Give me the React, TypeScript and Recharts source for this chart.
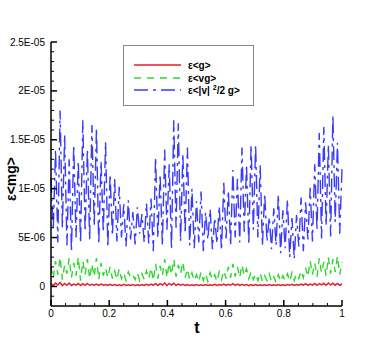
import React from "react";
import { Line, LineChart, XAxis, YAxis } from "recharts";

// values are in units of 1E-06; each series alternates crest / trough along t
const blueHigh = [
    11.0, 14.0, 18.0, 15.5, 13.0, 14.5, 12.8, 17.0, 14.0, 16.5, 16.2, 12.8, 14.8,
    11.5, 11.0, 10.2, 8.4, 8.8, 7.6, 8.1, 7.4, 8.5, 9.0,
    13.2, 11.5, 14.0, 12.5, 17.0, 16.7, 13.6, 14.2, 10.0,
    8.7, 9.7, 7.6, 7.9, 7.0, 8.2, 10.6, 9.8, 11.9, 11.0,
    14.2, 12.5, 14.5, 14.5, 12.4, 9.5, 7.1, 8.0, 9.4,
    7.8, 8.9, 7.0, 7.3, 9.1, 8.6, 10.1, 12.5, 15.7, 16.3, 14.5, 17.5, 14.7, 12.0,
];
const blueLow = [
    5.8, 4.5, 6.0, 4.2, 3.6, 5.0, 4.4, 5.6, 4.8, 6.2, 4.3, 5.5, 4.0,
    5.2, 4.6, 5.0, 4.1, 4.8, 4.3, 5.4, 4.5, 4.4,
    3.6, 5.0, 4.2, 5.8, 3.8, 6.0, 4.6, 5.4, 4.2, 3.9,
    4.5, 3.6, 4.8, 3.8, 4.4, 3.7, 4.9, 4.2, 5.0, 4.5, 5.6, 4.3, 5.8, 5.0,
    4.2, 4.6, 3.8, 4.2, 3.4, 3.9, 3.0, 2.8, 4.1, 3.6, 4.8,
    4.6, 5.8, 4.9, 6.2, 5.1, 6.6, 5.4,
];
const greenHigh = [
    2.0, 2.6, 3.0, 2.2, 2.9, 2.4, 3.0, 2.6, 2.8, 2.3, 2.9, 2.4, 1.9,
    2.0, 1.6, 1.8, 1.4, 1.5, 1.2, 1.4, 1.3, 1.6, 1.9,
    2.3, 2.1, 2.8, 2.4, 2.8, 2.2, 2.5, 1.8, 1.4,
    1.2, 1.5, 1.3, 1.4, 1.2, 1.5, 1.6, 2.0, 2.3, 2.0,
    2.2, 1.8, 1.5, 1.3, 1.4, 1.1, 1.3, 1.0, 1.2,
    1.1, 1.3, 1.4, 1.3, 1.6, 1.9, 2.6, 2.4, 2.9, 2.5, 3.0, 2.8, 3.1, 2.5,
];
const greenLow = [
    0.8, 1.2, 0.7, 1.3, 0.9, 1.1, 0.6, 1.2, 0.8, 1.0, 0.7, 1.1, 0.9,
    0.8, 0.7, 0.8, 0.6, 0.9, 0.7, 0.6, 0.7, 0.8, 0.6,
    0.8, 1.1, 0.9, 1.2, 1.0, 1.3, 0.9, 0.7, 0.6,
    0.5, 0.6, 0.5, 0.7, 0.5, 0.7, 0.8, 0.9, 1.0, 0.9,
    1.1, 0.8, 0.7, 0.6, 0.5, 0.6, 0.5, 0.4, 0.5,
    0.6, 0.5, 0.6, 0.8, 0.9, 1.0, 1.2, 1.0, 1.4, 1.1, 1.3, 1.5, 1.2,
];
const redHigh = [
    0.3, 0.35, 0.4, 0.3, 0.35, 0.25, 0.3, 0.28, 0.3, 0.22, 0.25, 0.24, 0.2,
    0.22, 0.2, 0.18, 0.22, 0.18, 0.2, 0.17, 0.2, 0.22, 0.25,
    0.3, 0.28, 0.35, 0.3, 0.32, 0.25, 0.22, 0.2, 0.18,
    0.2, 0.17, 0.2, 0.18, 0.22, 0.2, 0.25, 0.22, 0.28, 0.24,
    0.22, 0.2, 0.18, 0.2, 0.17, 0.18, 0.2, 0.17, 0.2,
    0.18, 0.2, 0.22, 0.2, 0.25, 0.28, 0.25, 0.3, 0.28, 0.32, 0.35, 0.33, 0.3, 0.25,
];
const redLow = [
    0.1, 0.15, 0.08, 0.12, 0.1, 0.14, 0.1, 0.12, 0.1, 0.13, 0.1, 0.12, 0.1,
    0.11, 0.1, 0.09, 0.1, 0.11, 0.09, 0.1, 0.1, 0.11, 0.12,
    0.1, 0.14, 0.1, 0.13, 0.11, 0.12, 0.1, 0.11, 0.1,
    0.09, 0.1, 0.1, 0.11, 0.1, 0.12, 0.1, 0.12, 0.1, 0.11,
    0.1, 0.09, 0.1, 0.1, 0.09, 0.1, 0.1, 0.1, 0.11,
    0.1, 0.12, 0.11, 0.12, 0.13, 0.12, 0.14, 0.12, 0.15, 0.12, 0.14, 0.13, 0.12,
];

const xLabels = ["0", "0.2", "0.4", "0.6", "0.8", "1"];
const yLabels = ["0", "5E-06", "1E-05", "1.5E-05", "2E-05", "2.5E-05"];

const interleave = (hi: number[], lo: number[]) => {
    const out: number[] = [];
    hi.forEach((h, i) => {
        out.push(h);
        if (i < lo.length) out.push(lo[i]);
    });
    return out;
};

const red = interleave(redHigh, redLow);
const green = interleave(greenHigh, greenLow);
const blue = interleave(blueHigh, blueLow);
const data = blue.map((b, i) => ({ t: i / (blue.length - 1), g: red[i], vg: green[i], v2g: b }));

const xTicks = Array.from({ length: 21 }, (_, k) => k / 20);
const yTicks = Array.from({ length: 27 }, (_, k) => k - 1);

const FONT = "'Liberation Sans', Arial, sans-serif";

const XTick = (props: any) => {
    const { x, y, payload } = props;
    const k = Math.round(payload.value * 20);
    const major = k % 4 === 0;
    return (
        <g>
            <line x1={x} x2={x} y1={y} y2={y - (major ? 6 : 3)} stroke="#000" strokeWidth={major ? 1.5 : 1} />
            {major && (
                <text x={x} y={y + 11} textAnchor="middle" fontSize={10} fontFamily={FONT} fill="#000">
                    {xLabels[k / 4]}
                </text>
            )}
        </g>
    );
};

const YTick = (props: any) => {
    const { x, y, payload } = props;
    const v = Math.round(payload.value);
    const major = v % 5 === 0 && v >= 0;
    return (
        <g>
            <line x1={x} x2={x + (major ? 6 : 3)} y1={y} y2={y} stroke="#000" strokeWidth={major ? 1.5 : 1} />
            {major && (
                <text x={x - 6} y={y + 3.5} textAnchor="end" fontSize={10} fontFamily={FONT} fill="#000">
                    {yLabels[v / 5]}
                </text>
            )}
        </g>
    );
};

const LegendBox = () => (
    <svg width={131} height={61} style={{ position: "absolute", left: 123, top: 45 }}>
        <rect x={0.5} y={0.5} width={130} height={60} fill="#fff" stroke="#888" />
        <line x1={11} x2={58} y1={20} y2={20} stroke="#e3202a" strokeWidth={1.6} />
        <line x1={11} x2={58} y1={33} y2={33} stroke="#2fd62f" strokeWidth={1.6} strokeDasharray="7 6" />
        <line x1={11} x2={58} y1={45} y2={45} stroke="#3a3aff" strokeWidth={1.6} strokeDasharray="14 5 3 5" />
        <g fontSize={10} fontWeight="bold" fontFamily={FONT} fill="#000">
            <text x={65} y={23.5}>ε&lt;g&gt;</text>
            <text x={65} y={36.5}>ε&lt;vg&gt;</text>
            <text x={65} y={48.5}>
                ε&lt;|v|
                <tspan dx={3} dy={-4} fontSize={7}>2</tspan>
                <tspan dy={4}>/2 g&gt;</tspan>
            </text>
        </g>
    </svg>
);

export default function App() {
    return (
        <div style={{ position: "absolute", left: 0, top: 0, width: 389, height: 346, background: "#fff" }}>
            <LineChart width={389} height={346} data={data} margin={{ top: 42, right: 47, left: 0, bottom: 0 }}>
                <XAxis
                    dataKey="t"
                    type="number"
                    domain={[0, 1]}
                    ticks={xTicks}
                    interval={0}
                    height={40}
                    tickSize={0}
                    tickMargin={0}
                    tickLine={false}
                    axisLine={{ stroke: "#000", strokeWidth: 1.5 }}
                    tick={<XTick />}
                />
                <YAxis
                    type="number"
                    domain={[-2, 25]}
                    ticks={yTicks}
                    interval={0}
                    width={51}
                    tickSize={0}
                    tickMargin={0}
                    tickLine={false}
                    allowDataOverflow
                    axisLine={{ stroke: "#000", strokeWidth: 1.5 }}
                    tick={<YTick />}
                />
                <Line dataKey="g" type="linear" stroke="#e3202a" strokeWidth={1.5} dot={false} isAnimationActive={false} />
                <Line dataKey="vg" type="linear" stroke="#2fd62f" strokeWidth={1.4} strokeDasharray="7 6" dot={false} isAnimationActive={false} />
                <Line dataKey="v2g" type="linear" stroke="#3a3aff" strokeWidth={1.4} strokeDasharray="14 5 3 5" dot={false} isAnimationActive={false} />
                <text x={11} y={179} transform="rotate(-90 11 179)" textAnchor="middle" dominantBaseline="central" fontSize={14} fontWeight="bold" fontFamily={FONT} fill="#000">
                    ε&lt;mg&gt;
                </text>
                <text x={197} y={333} textAnchor="middle" fontSize={16} fontWeight="bold" fontFamily={FONT} fill="#000">
                    t
                </text>
            </LineChart>
            <LegendBox />
        </div>
    );
}
